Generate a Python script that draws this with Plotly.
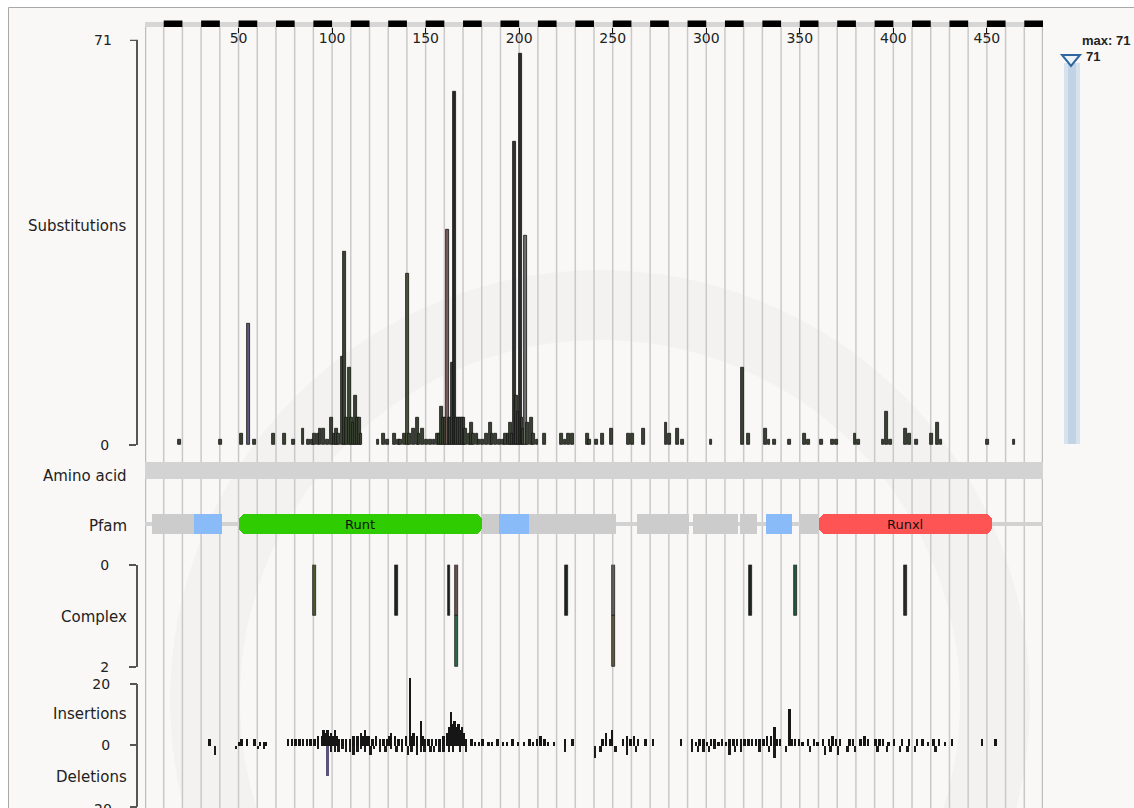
import plotly.graph_objects as go

W, H = 1134, 808
def PX(x): return x / W
def PY(y): return 1 - y / H

AA_LEN = 480

# ---------------- data ----------------
sub_pos = [19, 41, 52, 56, 59, 69, 75, 80, 85, 88, 90, 91, 93, 94, 96, 98, 100, 102, 103, 104,
           106, 107, 108, 110, 111, 112, 113, 114, 115, 116, 125, 128, 130, 134, 136, 137, 139,
           141, 142, 144, 146, 147, 149, 151, 153, 155, 157, 158, 159, 160, 161, 162, 163, 164,
           165, 166, 167, 168, 169, 170, 171, 172, 174, 175, 176, 178, 179, 181, 183, 185, 186,
           188, 190, 192, 193, 195, 196, 197, 198, 199, 200, 201, 202, 203, 204, 205, 207, 208,
           210, 214, 223, 225, 227, 229, 237, 238, 242, 245, 250, 259, 261, 267, 279, 281, 285,
           288, 303, 320, 323, 332, 334, 337, 345, 353, 355, 362, 368, 370, 380, 382, 395, 397,
           399, 407, 409, 413, 421, 424, 426, 451, 465]
sub_val = [1, 1, 2, 22, 1, 2, 2, 1, 3, 1, 1, 2, 2, 3, 3, 1, 5, 2, 3, 2,
           16, 35, 5, 14, 5, 4, 9, 5, 5, 2, 1, 2, 1, 2, 1, 1, 2,
           31, 2, 3, 5, 2, 3, 1, 1, 1, 2, 2, 7, 5, 5, 39, 5, 5,
           15, 64, 5, 5, 5, 5, 5, 3, 2, 4, 2, 2, 1, 1, 2, 4, 2,
           2, 1, 1, 2, 2, 4, 2, 55, 9, 6, 71, 5, 3, 38, 4, 5, 2,
           1, 2, 2, 1, 2, 2, 2, 1, 1, 2, 3, 2, 2, 3, 4, 2, 3,
           1, 1, 14, 2, 3, 1, 1, 1, 2, 1, 1, 1, 1, 2, 1, 1, 6,
           1, 3, 2, 1, 2, 4, 1, 1, 1]

complex_pos = [91, 135, 163, 167, 226, 251, 324, 348, 407]
complex_val = [1, 1, 1, 1, 1, 1, 1, 1, 1]
complex2_pos = [167, 251]
complex2_val = [1, 1]

ins_pos = [35, 51, 52, 55, 59, 62, 64, 65,
           77, 79, 81, 83, 85, 87, 89, 91, 93, 95, 96, 97, 98, 99, 100, 101, 102, 103, 104,
           106, 108, 110, 112, 114, 116, 117, 118, 119, 120, 122, 124, 126, 128, 130, 131,
           132, 134, 136, 138, 140, 142, 143, 144, 146, 148, 149, 150, 152, 154, 156, 158,
           160, 162, 163, 164, 165, 166, 167, 168, 169, 170, 171, 172,
           175, 177, 179, 181, 184, 186, 189, 192, 194, 197, 200, 203, 206, 208, 210, 212,
           214, 216, 219, 225, 229, 245, 247, 249, 250,
           256, 258, 260, 262, 264, 268, 272, 287,
           293, 295, 297, 299, 301, 303, 305, 307, 309, 311, 313, 315, 317, 319, 321, 323,
           325, 327, 329, 331, 333, 335, 337, 338, 340, 345, 346, 348, 350, 352, 355, 358,
           360, 363, 366, 368, 370, 372, 377, 379, 383, 385, 387, 391, 393, 395, 398, 401,
           405, 409, 413, 416, 419, 422, 425, 428, 432, 448, 455]
ins_val = [2, 1, 2, 2, 2, 1, 1, 1,
           2, 2, 2, 2, 2, 2, 2, 2, 3, 3, 5, 4, 5, 3, 4, 3, 5, 3, 2,
           2, 2, 2, 3, 3, 4, 3, 5, 3, 3, 2, 3, 2, 2, 2, 3,
           4, 3, 2, 2, 3, 22, 3, 4, 3, 8, 3, 2, 2, 2, 2, 2,
           3, 4, 6, 11, 7, 8, 6, 7, 5, 6, 4, 2,
           2, 1, 1, 2, 1, 1, 2, 1, 1, 2, 1, 1, 2, 1, 2, 3,
           2, 1, 1, 2, 2, 2, 4, 2, 5,
           2, 3, 2, 3, 2, 2, 2, 2,
           2, 1, 2, 2, 1, 2, 2, 1, 2, 1, 2, 2, 2, 2, 2, 2,
           2, 2, 2, 2, 3, 3, 6, 2, 2, 12, 2, 2, 2, 1, 2, 2,
           1, 2, 2, 3, 2, 2, 2, 2, 2, 3, 2, 2, 2, 2, 1, 2,
           2, 2, 2, 2, 1, 2, 2, 1, 2, 2, 2]

del_pos = [38, 49, 61, 64, 93, 98, 100, 102, 104, 106, 108, 110, 112, 114, 116, 118, 121,
           123, 126, 129, 132, 135, 138, 141, 143, 146, 148, 150, 153, 155, 158, 160, 163,
           165, 169, 172, 225, 241, 244, 252, 258, 263, 293, 296, 299, 302, 305, 313, 316,
           319, 329, 334, 337, 343, 356, 364, 367, 371, 376, 380, 392, 397, 404, 408, 412, 423]
del_val = [3, 1, 1, 1, 1, 10, 2, 2, 2, 1, 2, 2, 3, 2, 1, 2, 3,
           1, 2, 2, 1, 2, 2, 3, 2, 3, 2, 2, 2, 2, 2, 2, 2,
           2, 2, 2, 2, 4, 2, 2, 3, 2, 2, 2, 2, 2, 1, 3, 2,
           2, 2, 2, 4, 2, 2, 3, 2, 3, 2, 2, 2, 2, 2, 2, 2, 2]

pfam_other_start = [4, 180, 205, 263, 293, 318, 350]
pfam_other_end = [26, 189, 252, 291, 317, 327, 360]
pfam_lowc_start = [26, 189, 332]
pfam_lowc_end = [41, 205, 346]
pfam_dom_names = ["Runt", "Runxl"]
pfam_dom_start = [50, 360]
pfam_dom_end = [180, 453]

ruler_ticks = [50, 100, 150, 200, 250, 300, 350, 400, 450]
max_count = 71
sub_axis_top = 73.4     # the "71" bracket tick sits a little above the tallest bar
indel_max = 20

# ---------------- styles ----------------
sub_color_special = {56: "#5c5878", 162: "#7a5c5c", 204: "#707070", 141: "#4a5238",
                     110: "#3c4a30", 106: "#3e4a2e", 166: "#262a24", 201: "#2c2c2c", 198: "#303030"}
sub_colors = [sub_color_special.get(p, "#3a4232") for p in sub_pos]
complex_colors = ["#4b5a2c", "#1e2420", "#1e2420", "#6a5050", "#1e2420", "#5e5e5e",
                  "#1e2420", "#1f5a3a", "#2a2a22"]
complex2_colors = ["#2e6a46", "#5a5a3e"]
del_colors = ["#5a5478" if p == 98 else "#1c1c1c" for p in del_pos]

BW, OFF = 1.5, -1.25
FONT = "DejaVu Sans"
BOLD_FONT = "Liberation Sans"

fig = go.Figure()

fig.add_bar(x=sub_pos, y=sub_val, width=BW, offset=OFF, xaxis="x", yaxis="y",
            marker=dict(color=sub_colors, line=dict(color="#151515", width=0.8)),
            hoverinfo="skip")

# Pfam track
fig.add_bar(x=[AA_LEN], base=[0], y=[0], orientation="h", width=0.16, xaxis="x", yaxis="y2",
            marker=dict(color="#d2d2d2", line=dict(width=0)), hoverinfo="skip")
fig.add_bar(x=[e - s for s, e in zip(pfam_other_start, pfam_other_end)], base=pfam_other_start,
            y=[0] * len(pfam_other_start), orientation="h", width=0.76, xaxis="x", yaxis="y2",
            marker=dict(color="#cccccc", line=dict(width=0)), hoverinfo="skip")
fig.add_bar(x=[e - s for s, e in zip(pfam_lowc_start, pfam_lowc_end)], base=pfam_lowc_start,
            y=[0] * len(pfam_lowc_start), orientation="h", width=0.76, xaxis="x", yaxis="y2",
            marker=dict(color="#88bbf8", line=dict(width=0)), hoverinfo="skip")
dom_colors = ["#2ecc00", "#ff5454"]
mids = [(s + e) / 2 for s, e in zip(pfam_dom_start, pfam_dom_end)]
fig.add_bar(x=[e - m for m, e in zip(mids, pfam_dom_end)], base=mids, y=[0] * len(mids),
            orientation="h", width=0.76, xaxis="x", yaxis="y2",
            marker=dict(color=dom_colors, line=dict(width=0), cornerradius=7), hoverinfo="skip")
fig.add_bar(x=[s - m for m, s in zip(mids, pfam_dom_start)], base=mids, y=[0] * len(mids),
            orientation="h", width=0.76, xaxis="x", yaxis="y2",
            marker=dict(color=dom_colors, line=dict(width=0), cornerradius=7), hoverinfo="skip")
fig.add_bar(x=[(e - s) - 20 for s, e in zip(pfam_dom_start, pfam_dom_end)],
            base=[s + 10 for s in pfam_dom_start], y=[0] * len(mids),
            orientation="h", width=0.76, xaxis="x", yaxis="y2",
            marker=dict(color=dom_colors, line=dict(width=0)), hoverinfo="skip")

# Complex
fig.add_bar(x=complex_pos, y=complex_val, width=BW, offset=OFF, xaxis="x", yaxis="y3",
            marker=dict(color=complex_colors, line=dict(color="#111", width=0.7)), hoverinfo="skip")
fig.add_bar(x=complex2_pos, y=complex2_val, width=BW, offset=OFF, xaxis="x", yaxis="y3",
            marker=dict(color=complex2_colors, line=dict(color="#111", width=0.7)), hoverinfo="skip")

# Insertions / deletions
fig.add_bar(x=ins_pos, y=ins_val, width=1.3, offset=-1.15, xaxis="x", yaxis="y4",
            marker=dict(color="#161616", line=dict(width=0)), hoverinfo="skip")
fig.add_bar(x=del_pos, y=[-v for v in del_val], width=1.3, offset=-1.15, xaxis="x", yaxis="y4",
            marker=dict(color=del_colors, line=dict(width=0)), hoverinfo="skip")

# ---------------- shapes ----------------
shapes = []
shapes.append(dict(type="rect", xref="paper", yref="paper", x0=PX(8.5), x1=PX(1160), y0=PY(830), y1=PY(7.5),
                   fillcolor="#f9f8f6", line=dict(color="#a8a8a8", width=1), layer="below"))
cx, cy, r = 600, 700, 395
shapes.append(dict(type="circle", xref="paper", yref="paper", x0=PX(cx - r), x1=PX(cx + r),
                   y0=PY(cy + r), y1=PY(cy - r), line=dict(color="rgba(0,0,0,0.024)", width=70),
                   layer="below"))
for g in range(0, AA_LEN + 1, 10):
    edge = g in (0, AA_LEN)
    shapes.append(dict(type="line", xref="x", yref="paper", x0=g, x1=g, y0=PY(812), y1=PY(27),
                       line=dict(color="#bdbdbd" if edge else "#c9c9c9", width=2.5 if edge else 1.5),
                       layer="below"))
shapes.append(dict(type="rect", xref="x", yref="paper", x0=0, x1=AA_LEN, y0=PY(479), y1=PY(462),
                   fillcolor="#d3d3d3", line=dict(width=0), layer="below"))
shapes.append(dict(type="rect", xref="x", yref="paper", x0=0, x1=AA_LEN, y0=PY(27), y1=PY(22),
                   fillcolor="#d6d6d6", line=dict(width=0), layer="below"))
for s in range(10, AA_LEN, 20):
    shapes.append(dict(type="rect", xref="x", yref="paper", x0=s, x1=s + 10, y0=PY(27), y1=PY(20.5),
                       fillcolor="#000000", line=dict(width=0), layer="below"))
shapes.append(dict(type="line", xref="paper", yref="y", x0=PX(130), x1=PX(138), y0=sub_axis_top, y1=sub_axis_top,
                   line=dict(color="#555", width=2)))
shapes.append(dict(type="line", xref="paper", yref="y4", x0=PX(137), x1=PX(137), y0=-indel_max, y1=indel_max,
                   line=dict(color="#555", width=2)))
shapes.append(dict(type="rect", xref="paper", yref="paper", x0=PX(1064), x1=PX(1080), y0=PY(444), y1=PY(63),
                   fillcolor="#d6e2ee", line=dict(width=0)))
shapes.append(dict(type="rect", xref="paper", yref="paper", x0=PX(1068), x1=PX(1076), y0=PY(444), y1=PY(63),
                   fillcolor="#c2d3e5", line=dict(width=0)))
tx = [1062, 1080, 1071]
ty = [55, 55, 66]
path = "M {} {} L {} {} L {} {} Z".format(PX(tx[0]), PY(ty[0]), PX(tx[1]), PY(ty[1]), PX(tx[2]), PY(ty[2]))
shapes.append(dict(type="path", xref="paper", yref="paper", path=path,
                   fillcolor="#eef3f8", line=dict(color="#2f66a0", width=2)))

# ---------------- annotations ----------------
ann = []
labels = [("Substitutions", 226), ("Amino acid", 476), ("Pfam", 526), ("Complex", 617),
          ("Insertions", 714), ("Deletions", 777)]
for txt, yy in labels:
    ann.append(dict(text=txt, xref="paper", yref="paper", x=PX(129), y=PY(yy), xanchor="right",
                    yanchor="middle", showarrow=False, font=dict(family=FONT, size=15, color="#222")))
ann.append(dict(text=str(max_count), xref="paper", yref="y", x=PX(114), y=sub_axis_top, xanchor="right",
                yanchor="middle", showarrow=False, font=dict(family=FONT, size=14, color="#222")))
ann.append(dict(text=str(indel_max), xref="paper", yref="y4", x=PX(114), y=-indel_max, xanchor="right",
                yanchor="middle", yshift=-2, showarrow=False, font=dict(family=FONT, size=14, color="#222")))
for name, m in zip(pfam_dom_names, mids):
    ann.append(dict(text=name, xref="x", yref="y2", x=m, y=0, showarrow=False,
                    font=dict(family=FONT, size=13, color="#111")))
ann.append(dict(text="<b>max: {}</b>".format(max_count), xref="paper", yref="paper", x=PX(1132), y=PY(40),
                xanchor="right", yanchor="middle", showarrow=False,
                font=dict(family=BOLD_FONT, size=13, color="#222")))
ann.append(dict(text="<b>{}</b>".format(max_count), xref="paper", yref="paper", x=PX(1084), y=PY(56),
                xanchor="left", yanchor="middle", showarrow=False,
                font=dict(family=BOLD_FONT, size=13, color="#222")))

yax_common = dict(anchor="free", position=PX(137), linecolor="#555", linewidth=2,
                  ticks="outside", ticklen=7, tickwidth=2, tickcolor="#555", showgrid=False,
                  zeroline=False, fixedrange=True, ticklabelstandoff=17,
                  tickfont=dict(family=FONT, size=14, color="#222"))

fig.update_layout(
    width=W, height=H, margin=dict(l=0, r=0, t=0, b=0, autoexpand=False),
    paper_bgcolor="white", plot_bgcolor="rgba(0,0,0,0)",
    barmode="relative", bargap=0, showlegend=False,
    font=dict(family=FONT, size=12, color="#222"),
    xaxis=dict(domain=[PX(145), PX(1043)], range=[0, AA_LEN], anchor="free", position=PY(27),
               side="top", tickvals=ruler_ticks, ticks="inside", ticklen=5, tickwidth=1,
               tickcolor="#111", ticklabelposition="inside", showgrid=False, zeroline=False,
               showline=False, fixedrange=True, tickfont=dict(family=FONT, size=14, color="#222")),
    yaxis=dict(domain=[PY(445), PY(39.7)], range=[0, sub_axis_top + 0.06], tickvals=[0],
               showline=True, **yax_common),
    yaxis2=dict(domain=[PY(537), PY(511)], range=[-0.5, 0.5], anchor="free", position=PX(145),
                visible=False, fixedrange=True),
    yaxis3=dict(domain=[PY(667.3), PY(564.7)], range=[2.006, -0.006], tickvals=[0, 2], showline=True,
                **yax_common),
    yaxis4=dict(domain=[PY(808), PY(677.8)], range=[-20.4, 22], tickvals=[-20, 0, 20],
                ticktext=["", "0", "20"], showline=False, **yax_common),
    shapes=shapes, annotations=ann,
)

fig.write_html("out.html", config={"displayModeBar": False},
               post_script="document.body.style.margin='0px';")
